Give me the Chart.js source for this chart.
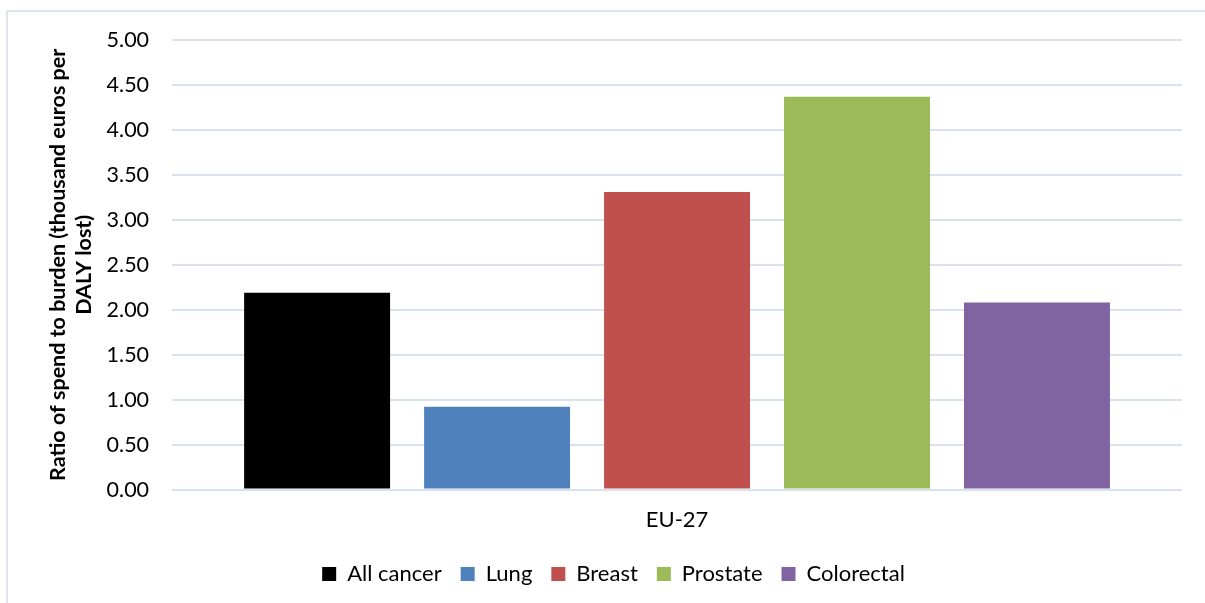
<!DOCTYPE html>
<html>
<head>
<meta charset="utf-8">
<script src="https://cdn.jsdelivr.net/npm/chart.js@4"></script>
<style>
  html, body { margin: 0; padding: 0; background: #ffffff; overflow: hidden; }
  #frame { position: absolute; left: 6px; top: 10px; width: 1400px; height: 800px;
           border-top: 2px solid #dbe4f1; border-left: 2px solid #dbe4f1; }
  #c { position: absolute; left: 0; top: 0; }
</style>
</head>
<body>
<div id="frame"></div>
<canvas id="c" width="1205" height="603"></canvas>
<script>
const categories = ["EU-27"];
const seriesNames = ["All cancer", "Lung", "Breast", "Prostate", "Colorectal"];
const seriesValues = [2.19, 0.92, 3.31, 4.37, 2.08];
const seriesColors = ["#000000", "#4f81bd", "#c0504d", "#9bbb59", "#8064a2"];
const yTitle = ["Ratio of spend to burden (thousand euros per", "DALY lost)"];

const FONT = "Lato, 'Open Sans', sans-serif";

const datasets = seriesNames.map((n, i) => ({
  label: n,
  data: [seriesValues[i]],
  backgroundColor: seriesColors[i],
  borderWidth: 0,
  categoryPercentage: 0.891,
  barPercentage: 0.811
}));

const legendShift = {
  id: 'legendShift',
  afterLayout(chart) {
    const l = chart.legend;
    if (l) { l.top -= 6; l.bottom -= 6; }
  }
};

new Chart(document.getElementById('c'), {
  type: 'bar',
  data: { labels: categories, datasets },
  plugins: [legendShift],
  options: {
    responsive: false,
    animation: false,
    layout: { padding: { left: 45, right: 23, top: 40, bottom: 2 } },
    plugins: {
      tooltip: { enabled: false },
      legend: {
        position: 'bottom',
        labels: {
          color: '#000',
          font: { family: FONT, size: 22 },
          boxWidth: 14, boxHeight: 14,
          padding: 19
        }
      }
    },
    scales: {
      x: {
        grid: { display: false, drawTicks: false },
        border: { display: false },
        ticks: { color: '#000', font: { family: FONT, size: 22 }, padding: 17 }
      },
      y: {
        min: 0, max: 5,
        grid: { color: '#d9e2f1', lineWidth: 2, drawTicks: false },
        border: { display: false },
        ticks: {
          stepSize: 0.5,
          color: '#000',
          font: { family: FONT, size: 21.5 },
          padding: 23,
          callback: v => Number(v).toFixed(2)
        },
        title: {
          display: true,
          text: yTitle,
          color: '#000',
          font: { family: FONT, size: 21.5, weight: 'bold', lineHeight: 1.2 },
          padding: { top: 0, bottom: -13 }
        }
      }
    }
  }
});
</script>
</body>
</html>
